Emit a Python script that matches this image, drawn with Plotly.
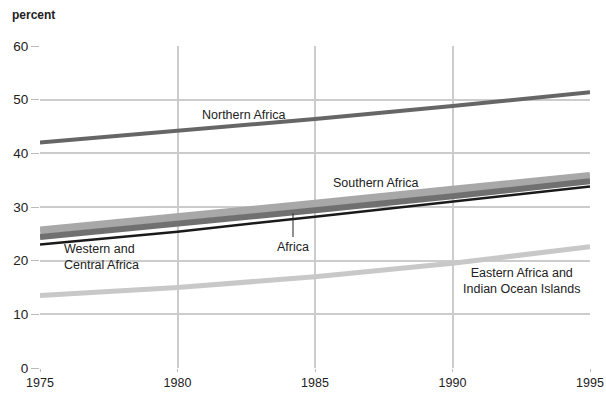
import plotly.graph_objects as go

years = [1975, 1980, 1985, 1990, 1995]
northern = [42.0, 44.2, 46.4, 48.8, 51.4]
southern = [25.6, 28.0, 30.6, 33.2, 35.8]
africa = [24.4, 26.8, 29.4, 32.0, 34.8]
western = [23.0, 25.4, 28.2, 31.0, 33.8]
eastern = [13.5, 15.0, 17.0, 19.5, 22.6]

font = "Liberation Sans, Arial, sans-serif"
fig = go.Figure()
series = [
    (southern, "#a8a8a8", 8),
    (africa, "#707070", 6),
    (western, "#1a1a1a", 2.5),
    (northern, "#666666", 4),
    (eastern, "#c8c8c8", 5),
]
for ys, col, w in series:
    fig.add_trace(go.Scatter(x=years, y=ys, mode="lines",
                             line=dict(color=col, width=w), showlegend=False))

anns = [
    (1982.4, 47.1, "Northern Africa", "center"),
    (1987.2, 34.4, "Southern Africa", "center"),
    (1975.8, 20.7, "Western and<br>Central Africa", "left"),
    (1984.2, 22.5, "Africa", "center"),
    (1992.5, 16.2, "Eastern Africa and<br>Indian Ocean Islands", "center"),
]
for x, y, t, al in anns:
    fig.add_annotation(x=x, y=y, text=t, showarrow=False, align=al,
                       xanchor="left" if al == "left" else "center",
                       font=dict(family=font, size=12.5, color="#222"))
fig.add_shape(type="line", x0=1984.2, x1=1984.2, y0=24.4, y1=28.8,
              line=dict(color="#222", width=1))

fig.add_annotation(xref="paper", yref="paper", x=-0.0545, y=1.068, text="<b>percent</b>",
                   showarrow=False, xanchor="left", yanchor="bottom",
                   font=dict(family=font, size=12, color="#222"))

fig.update_layout(
    width=606, height=396,
    margin=dict(l=40, r=16, t=46, b=28),
    plot_bgcolor="white", paper_bgcolor="white",
    font=dict(family=font, size=12, color="#222"),
    xaxis=dict(range=[1975, 1995], tickvals=years, showgrid=True, automargin=False,
               gridcolor="#cccccc", gridwidth=2, zeroline=False,
               ticks="outside", ticklen=3, tickcolor="#bbb", showline=False,
               tickfont=dict(size=12.5)),
    yaxis=dict(range=[0, 60], tickvals=[0, 10, 20, 30, 40, 50, 60], showgrid=True,
               automargin=False,
               gridcolor="#cccccc", gridwidth=2, zeroline=False,
               ticks="outside", ticklen=8, tickcolor="#bbb",
               tickfont=dict(size=13.5)),
)
fig.write_html("out.html", config={"displayModeBar": False},
               post_script="document.body.style.margin='0';document.body.style.overflow='hidden';")
